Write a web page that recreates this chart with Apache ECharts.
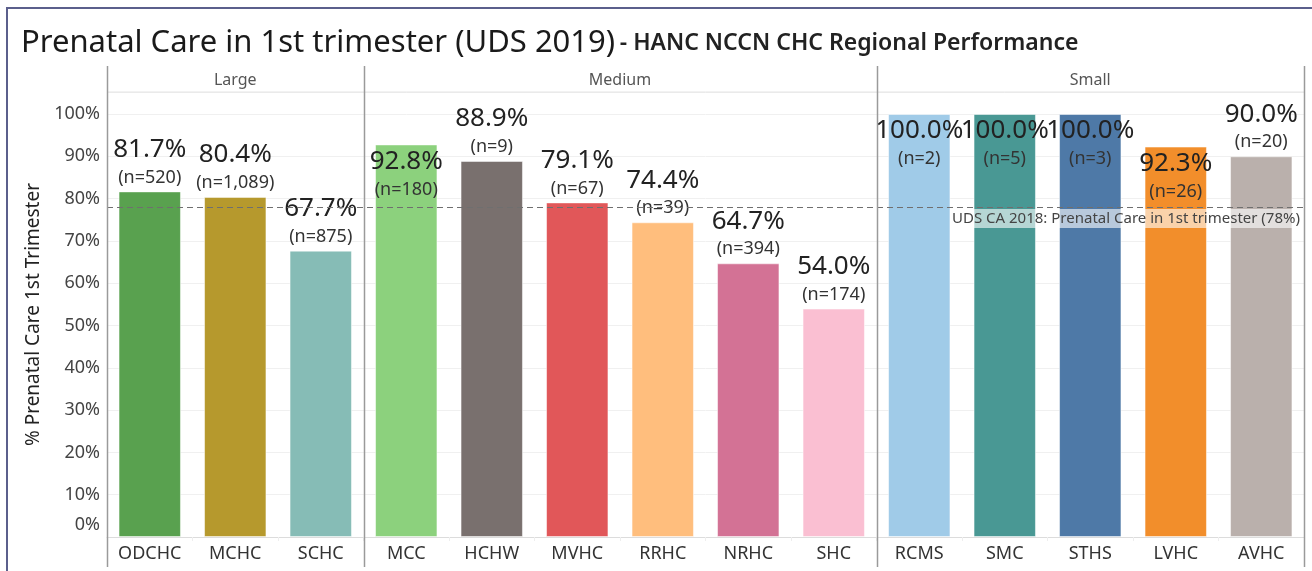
<!DOCTYPE html>
<html>
<head>
<meta charset="utf-8">
<script src="https://cdn.jsdelivr.net/npm/echarts@6/dist/echarts.min.js"></script>
<style>
  html, body { margin: 0; padding: 0; background: #fff; }
  #chart { width: 1312px; height: 571px; }
</style>
</head>
<body>
<div id="chart"></div>
<script>
// data
const groups = ['Large', 'Medium', 'Small'];
const groupSizes = [3, 6, 5];
const categories = ['ODCHC', 'MCHC', 'SCHC', 'MCC', 'HCHW', 'MVHC', 'RRHC', 'NRHC', 'SHC', 'RCMS', 'SMC', 'STHS', 'LVHC', 'AVHC'];
const pctValues = [81.7, 80.4, 67.7, 92.8, 88.9, 79.1, 74.4, 64.7, 54.0, 100.0, 100.0, 100.0, 92.3, 90.0];
const nValues = ['520', '1,089', '875', '180', '9', '67', '39', '394', '174', '2', '5', '3', '26', '20'];
const barColors = ['#59a14f', '#b6992d', '#86bcb6', '#8cd17d', '#79706e', '#e15759', '#ffbe7d', '#d37295', '#fabfd2', '#a0cbe8', '#499894', '#4e79a7', '#f28e2b', '#bab0ac'];
const insideLabelNames = ['MCC', 'RCMS', 'SMC', 'STHS', 'LVHC'];
const refValue = 78;
const refText = 'UDS CA 2018: Prenatal Care in 1st trimester (78%)';

const FONT = "'Noto Sans', 'Open Sans', sans-serif";

const chart = echarts.init(document.getElementById('chart'));

const option = {
  animation: false,
  textStyle: { fontFamily: FONT },
  title: {
    left: 16,
    top: 23,
    text: '{a|Prenatal Care in 1st trimester (UDS 2019)} {b|- HANC NCCN CHC Regional Performance}',
    textStyle: {
      fontWeight: 'normal',
      rich: {
        a: { fontSize: 31, color: '#1a1a1a', fontWeight: 'normal', fontFamily: FONT },
        b: { fontSize: 23, color: '#222', fontWeight: 600, fontFamily: FONT }
      }
    }
  },
  grid: { left: 107, right: 8, top: 92, bottom: 34 },
  xAxis: {
    type: 'category',
    data: categories,
    axisLine: { lineStyle: { color: '#dcdcdc' } },
    axisTick: { show: true, length: 4, lineStyle: { color: '#eeeeee' } },
    axisLabel: { color: '#333', fontSize: 18, margin: 8, interval: 0 }
  },
  yAxis: {
    type: 'value',
    min: 0,
    max: 105.2,
    interval: 10,
    name: '% Prenatal Care 1st Trimester',
    nameLocation: 'middle',
    nameGap: 62,
    nameTextStyle: { fontSize: 19, color: '#222' },
    axisLine: { show: false },
    axisTick: { show: false },
    splitLine: { lineStyle: { color: '#f0f0f0' } },
    axisLabel: {
      color: '#444',
      fontSize: 18,
      margin: 7,
      formatter: function (v) {
        if (v % 10 !== 0) return '';
        if (v === 0) return '{z|0%}';
        return v + '%';
      },
      rich: { z: { fontSize: 18, color: '#444', padding: [0, 0, 24, 0] } }
    }
  },
  series: [{
    type: 'bar',
    barWidth: '73%',
    data: pctValues.map(function (v, i) {
      const item = {
        value: v,
        itemStyle: { color: barColors[i], borderColor: 'rgba(255,255,255,0.5)', borderWidth: 1 }
      };
      if (insideLabelNames.indexOf(categories[i]) >= 0) {
        item.label = { position: 'insideTop', distance: 2 };
      }
      return item;
    }),
    label: {
      show: true,
      position: 'top',
      distance: 1,
      formatter: function (p) {
        return '{v|' + p.value.toFixed(1) + '%}\n{n|(n=' + nValues[p.dataIndex] + ')}';
      },
      rich: {
        v: { fontSize: 26, color: '#222', lineHeight: 30, fontFamily: FONT },
        n: { fontSize: 18, color: '#333', lineHeight: 26, fontFamily: FONT }
      }
    },
    markLine: {
      silent: true,
      symbol: 'none',
      lineStyle: { color: '#6f6f6f', type: [6, 4], width: 1 },
      label: {
        position: 'insideEndBottom',
        formatter: refText,
        fontSize: 15,
        color: '#444',
        distance: [2, 2],
        backgroundColor: 'rgba(255,255,255,0.6)',
        padding: [2, 2]
      },
      data: [{ yAxis: refValue }]
    }
  }]
};

chart.setOption(option);

// pane dividers, header row and frame
function drawDecor() {
  const c0 = chart.convertToPixel({ xAxisIndex: 0 }, 0);
  const c1 = chart.convertToPixel({ xAxisIndex: 0 }, 1);
  const band = c1 - c0;
  const els = [];
  let start = 0;
  const xs = [];
  groups.forEach(function (g, i) {
    const x0 = c0 + (start - 0.5) * band;
    const x1 = c0 + (start + groupSizes[i] - 0.5) * band;
    xs.push(x0);
    if (i === groups.length - 1) xs.push(x1);
    els.push({
      type: 'text', silent: true,
      style: { x: (x0 + x1) / 2, y: 80, text: g, fill: '#555', fontSize: 16, fontFamily: FONT, align: 'center', verticalAlign: 'middle' }
    });
    start += groupSizes[i];
  });
  els.push({
    type: 'line', silent: true,
    shape: { x1: xs[0], y1: 92, x2: xs[xs.length - 1], y2: 92 },
    style: { stroke: '#e4e4e4', lineWidth: 1 }
  });
  xs.forEach(function (x) {
    els.push({
      type: 'line', silent: true, z: 10,
      shape: { x1: Math.round(x) + 0.5, y1: 66, x2: Math.round(x) + 0.5, y2: 567 },
      style: { stroke: '#9a9a9a', lineWidth: 1.5 }
    });
  });
  els.push({
    type: 'rect', silent: true,
    shape: { x: 7, y: 8, width: 1400, height: 700 },
    style: { fill: 'none', stroke: '#5b5f8c', lineWidth: 2 }
  });
  chart.setOption({ graphic: els });
}
drawDecor();
</script>
</body>
</html>
